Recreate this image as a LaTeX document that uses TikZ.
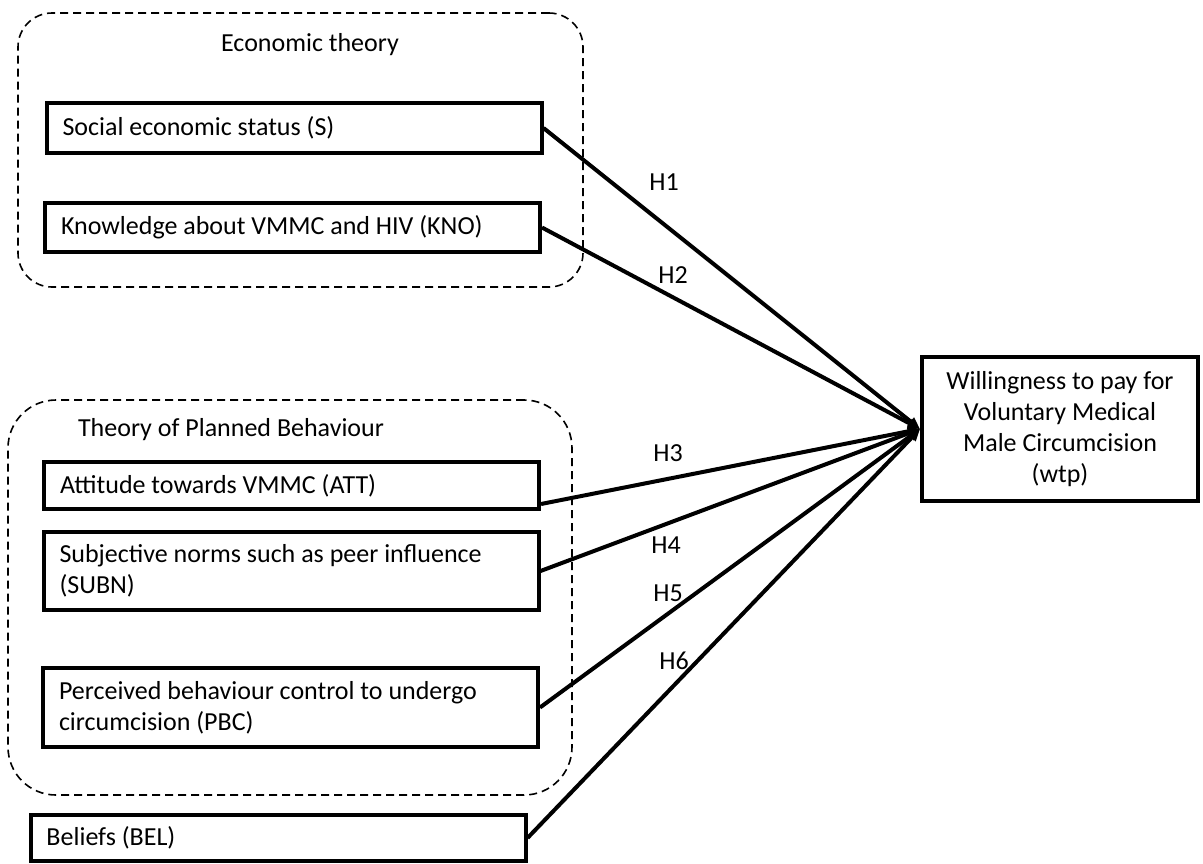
\documentclass[tikz,border=0pt]{standalone}
\usepackage{fontspec}
\setmainfont{Carlito}
\usetikzlibrary{arrows.meta}
\begin{document}
\begin{tikzpicture}[x=0.5pt, y=-0.5pt,
  font=\fontsize{13pt}{15.6pt}\selectfont,
  group/.style={draw, dash pattern=on 4pt off 2.5pt, line width=0.8pt,
    rounded corners=#1, inner sep=0pt},
  factor/.style={draw, line width=2pt, inner xsep=8pt, inner ysep=0pt,
    text width=231.5pt, align=flush left, minimum height=#1},
  outcome/.style={draw, line width=2pt, inner sep=0pt, align=center,
    minimum width=138pt, minimum height=72pt},
  hyp/.style={inner sep=0pt},
  link/.style={line width=2pt, -{Triangle[length=6pt,width=5pt]}}]

\useasboundingbox (0,0) rectangle (1203,863);

% theory groups
\node[group=17pt, minimum width=282.5pt, minimum height=137pt] (econ) at (300.5,150) {};
\node[group=24pt, minimum width=282pt, minimum height=197.5pt] (tpb) at (290,597.5) {};
\node (econtitle) at (310,45) {Economic theory};
\node (tpbtitle) at (231,430) {Theory of Planned Behaviour};

% explanatory factors
\node[factor=25pt] (S) at (294,128) {Social economic status (S)};
\node[factor=24.5pt] (KNO) at (292.5,227.5) {Knowledge about VMMC and HIV (KNO)};
\node[factor=23.5pt] (ATT) at (291.5,485.5) {Attitude towards VMMC (ATT)};
\node[factor=39pt] (SUBN) at (291,571) {Subjective norms such as peer influence\\(SUBN)};
\node[factor=39.5pt] (PBC) at (290.5,707.5) {Perceived behaviour control to undergo\\circumcision (PBC)};
\node[factor=23pt] (BEL) at (278,838) {Beliefs (BEL)};

% outcome
\node[outcome] (wtp) at (1060,429) {Willingness to pay for\\Voluntary Medical\\Male Circumcision\\(wtp)};

% hypothesised paths
\draw[link] (S.east) -- (wtp.west);
\draw[link] (KNO.east) -- (wtp.west);
\draw[link] ([yshift=3.5pt]ATT.south east) -- (wtp.west);
\draw[link] (SUBN.east) -- (wtp.west);
\draw[link] (PBC.east) -- (wtp.west);
\draw[link] (BEL.east) -- (wtp.west);

\node[hyp] (h1) at (664,182) {H1};
\node[hyp] (h2) at (673,275) {H2};
\node[hyp] (h3) at (668,453) {H3};
\node[hyp] (h4) at (666,545) {H4};
\node[hyp] (h5) at (668,593) {H5};
\node[hyp] (h6) at (674,661) {H6};
\end{tikzpicture}
\end{document}
